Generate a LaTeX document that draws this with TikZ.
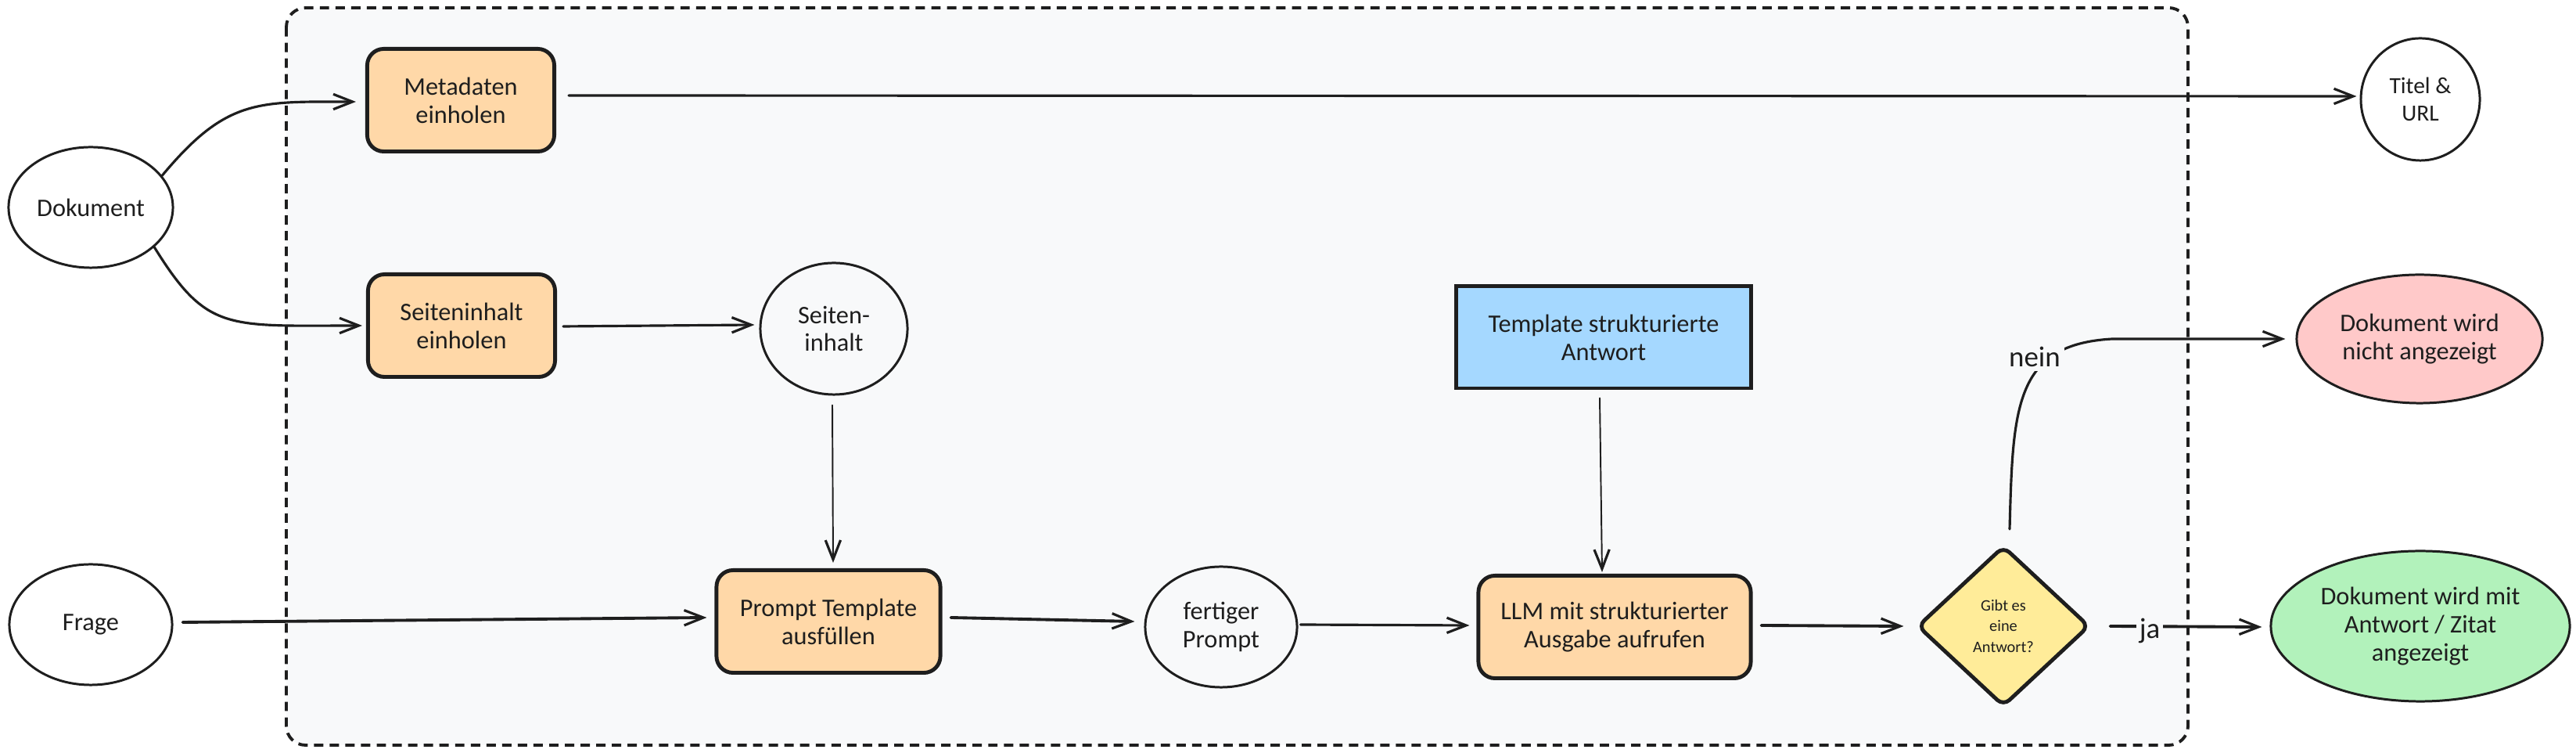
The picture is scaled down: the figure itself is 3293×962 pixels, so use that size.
\documentclass[tikz,border=0pt]{standalone}
\usepackage{fontspec}
\setmainfont{Carlito}
\usetikzlibrary{arrows.meta,shapes.geometric,calc}
\definecolor{ink}{HTML}{1E1E1E}
\definecolor{contfill}{HTML}{F8F9FA}
\definecolor{orangefill}{HTML}{FFD8A8}
\definecolor{bluefill}{HTML}{A5D8FF}
\definecolor{yellowfill}{HTML}{FFEC99}
\definecolor{redfill}{HTML}{FFC9C9}
\definecolor{greenfill}{HTML}{B2F2BB}
\begin{document}
\begin{tikzpicture}[x=0.01cm,y=-0.01cm,
  font=\fontsize{9.2}{10.2}\selectfont, text=ink,
  proc/.style={draw=ink, line width=1.4pt, fill=orangefill, rounded corners=6pt,
    minimum height=1.31cm, align=center, inner sep=0pt},
  tmplbox/.style={draw=ink, line width=1.4pt, fill=bluefill,
    minimum width=3.76cm, minimum height=1.30cm, align=center, inner sep=0pt},
  ell/.style={ellipse, draw=ink, line width=0.85pt, align=center, inner sep=0pt},
  arr/.style={draw=ink, line width=0.9pt, line cap=round,
    -{Straight Barb[length=7pt,width=5.5pt,line width=0.9pt]}},
  thinarr/.style={arr, line width=0.55pt},
  lbl/.style={fill=contfill, inner sep=1.5pt, font=\fontsize{10.5}{12}\selectfont},
  contbox/.style={draw=ink, line width=1.1pt, fill=contfill, rounded corners=7pt,
    dash pattern=on 3.4pt off 2.3pt}
]
\useasboundingbox (0,0) rectangle (3293,962);

% container
\draw[contbox] (366,10) rectangle (2797,952);

% nodes
\node[ell, minimum width=2.10cm, minimum height=1.54cm] (doc) at (116,265) {Dokument};
\node[ell, minimum width=2.08cm, minimum height=1.54cm] (frage) at (116,798) {Frage};
\node[proc, minimum width=2.39cm] (meta) at (589,128) {Metadaten\\einholen};
\node[proc, minimum width=2.39cm] (seit) at (590,416) {Seiteninhalt\\einholen};
\node[ell, minimum width=1.88cm, minimum height=1.68cm] (seitinh) at (1066,420) {Seiten-\\inhalt};
\node[proc, minimum width=2.86cm] (prompt) at (1059,794) {Prompt Template\\ausfüllen};
\node[ell, minimum width=1.94cm, minimum height=1.54cm] (fertig) at (1561,801) {fertiger\\Prompt};
\node[tmplbox] (tmpl) at (2050,431) {Template strukturierte\\Antwort};
\node[proc, minimum width=3.48cm] (llm) at (2064,801) {LLM mit strukturierter\\Ausgabe aufrufen};
\node[diamond, draw=ink, line width=1.4pt, fill=yellowfill, rounded corners=3pt,
  minimum width=2.20cm, minimum height=2.05cm, inner sep=0pt, align=center,
  font=\fontsize{5.8}{7.5}\selectfont] (dia) at (2561,800) {Gibt es\\eine\\Antwort?};
\node[ell, fill=redfill, minimum width=3.14cm, minimum height=1.64cm] (rot) at (3093,433) {Dokument wird\\nicht angezeigt};
\node[ell, fill=greenfill, minimum width=3.82cm, minimum height=1.92cm] (grn) at (3094,800) {Dokument wird mit\\Antwort / Zitat\\angezeigt};
\node[ell, minimum width=1.52cm, minimum height=1.56cm, font=\fontsize{8.4}{9.8}\selectfont] (titel) at (3094,127) {Titel \&\\URL};

% connectors
\draw[arr] (doc.24) .. controls (290,125) and (330,130) .. ($(meta.west)+(-12,2)$);
\draw[arr] (doc.-32) .. controls (265,425) and (290,416) .. ($(seit.west)+(-5,0)$);
\draw[arr] ($(meta.east)+(16,-6)$) -- ($(titel.west)+(-4,-4)$);
\draw[arr] ($(seit.east)+(8,1)$) -- ($(seitinh.west)+(-6,-5)$);
\draw[thinarr] ($(seitinh.south)+(-2,12)$) -- ($(prompt.north)+(6,-7)$);
\draw[arr, line width=1.1pt] ($(frage.east)+(12,-3)$) -- ($(prompt.west)+(-10,-5)$);
\draw[arr, line width=1.1pt] ($(prompt.east)+(11,-5)$) -- ($(fertig.west)+(-12,-7)$);
\draw[arr] ($(fertig.east)+(3,-3)$) -- ($(llm.west)+(-9,-2)$);
\draw[thinarr] ($(tmpl.south)+(-5,10)$) -- ($(llm.north)+(-16,-2)$);
\draw[arr, line width=1.1pt] ($(llm.east)+(11,-2)$) -- ($(dia.west)+(-15,0)$);
\draw[arr] ($(dia.north)+(8,-19)$) .. controls (2573,520) and (2575,440) .. (2700,433)
  -- ($(rot.west)+(-13,0)$);
\node[lbl] (nein) at (2601,456) {nein};
\draw[arr, line width=1.1pt] ($(dia.east)+(24,0)$) -- ($(grn.west)+(-10,1)$);
\node[lbl, inner sep=1pt] (ja) at (2748,806) {ja};
\end{tikzpicture}
\end{document}
